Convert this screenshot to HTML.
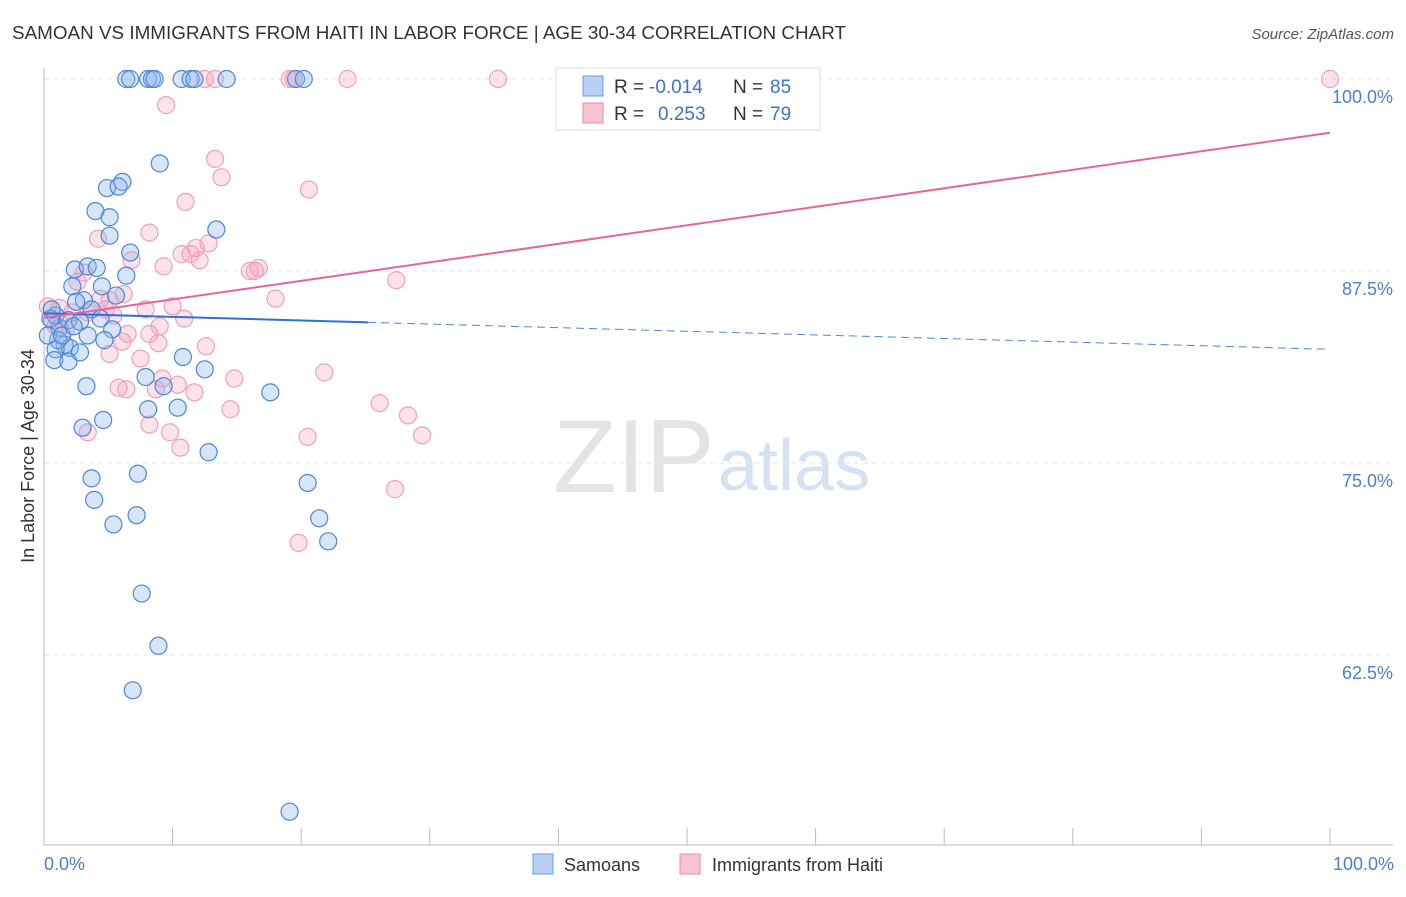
<!DOCTYPE html>
<html><head><meta charset="utf-8"><style>
body{margin:0;background:#fff;font-family:"Liberation Sans",sans-serif}
svg text{font-family:"Liberation Sans",sans-serif}
</style></head><body>
<svg width="1406" height="892">
<text x="12" y="39" font-size="18" fill="#333" textLength="834" lengthAdjust="spacingAndGlyphs">SAMOAN VS IMMIGRANTS FROM HAITI IN LABOR FORCE | AGE 30-34 CORRELATION CHART</text>
<text x="1394" y="39" font-size="15" fill="#555" font-style="italic" text-anchor="end">Source: ZipAtlas.com</text>
<text x="553" y="492" font-size="104" fill="#e4e4e4" font-family="Liberation Serif">ZIP</text>
<text x="718" y="490" font-size="72" fill="#d6e2f3">atlas</text>
<g id="grid"></g>
<line x1="44" y1="68" x2="44" y2="845" stroke="#bbb"/>
<line x1="44" y1="845" x2="1393" y2="845" stroke="#bbb"/>
<text transform="translate(34,456) rotate(-90)" font-size="18" fill="#333" text-anchor="middle">In Labor Force | Age 30-34</text>
<text x="44" y="870" font-size="18" fill="#4a7fd4">0.0%</text>
<text x="1394" y="870" font-size="18" fill="#4a7fd4" text-anchor="end">100.0%</text>
<g id="pts"></g>
<g id="lines"></g>
<g>
<rect x="556" y="68" width="264" height="62" fill="#fff" stroke="#ddd"/>
<rect x="583" y="76" width="20" height="20" fill="#b8d0f3" stroke="#6d9be0"/>
<rect x="583" y="103" width="20" height="20" fill="#f8c3d3" stroke="#ea8aaa"/>
<text x="614" y="93" font-size="19" fill="#333">R =</text>
<text x="649" y="93" font-size="19" fill="#3a73d0">-0.014</text>
<text x="733" y="93" font-size="19" fill="#333">N =</text>
<text x="770" y="93" font-size="19" fill="#3a73d0">85</text>
<text x="614" y="120" font-size="19" fill="#333">R =</text>
<text x="658" y="120" font-size="19" fill="#3a73d0">0.253</text>
<text x="733" y="120" font-size="19" fill="#333">N =</text>
<text x="770" y="120" font-size="19" fill="#3a73d0">79</text>
</g>
<g>
<rect x="533" y="854" width="20" height="20" fill="#b8d0f3" stroke="#6d9be0"/>
<text x="564" y="871" font-size="18" fill="#333">Samoans</text>
<rect x="680" y="854" width="20" height="20" fill="#f8c3d3" stroke="#ea8aaa"/>
<text x="712" y="871" font-size="18" fill="#333">Immigrants from Haiti</text>
</g>
</svg>
<script>
const yTicks=[100,87.5,75,62.5];
const yTickLabels=["100.0%","87.5%","75.0%","62.5%"];
const xTicks=[0,10,20,30,40,50,60,70,80,90,100];
const blueX=[6.4,6.7,8.1,8.4,8.6,10.7,11.4,11.7,14.2,19.6,20.2,9.0,4.9,6.1,5.8,4.0,5.1,5.1,13.4,6.7,6.4,2.4,3.4,4.1,2.2,4.5,5.6,3.1,2.5,3.7,4.4,5.3,3.4,4.7,1.2,0.9,0.5,1.9,2.8,1.6,2.0,0.9,0.8,1.9,2.8,10.8,12.5,7.9,9.3,3.3,8.1,10.4,4.6,3.0,17.6,12.8,7.3,3.7,3.9,7.2,5.4,20.5,21.4,22.1,7.6,8.9,6.9,19.1,0.6,1.1,0.3,1.4,2.3];
const blueY=[100,100,100,100,100,100,100,100,100,100,100,94.5,92.9,93.3,93.0,91.4,91.0,89.8,90.2,88.7,87.2,87.6,87.8,87.7,86.5,86.5,85.9,85.6,85.5,85.0,84.4,83.7,83.3,83.0,83.8,84.6,84.4,84.3,84.2,82.7,82.5,82.4,81.7,81.6,82.2,81.9,81.1,80.6,80.0,80.0,78.5,78.6,77.8,77.3,79.6,75.7,74.3,74.0,72.6,71.6,71.0,73.7,71.4,69.9,66.5,63.1,60.2,52.3,85.0,83.0,83.3,83.3,83.9];
const pinkX=[12.5,13.3,19.1,19.4,23.6,35.3,100,9.5,13.3,13.8,20.6,11.0,8.2,4.2,11.8,12.8,10.7,11.4,12.1,6.8,9.3,16.0,16.4,16.7,27.4,3.1,2.6,18.0,6.2,4.4,5.1,0.3,1.2,2.2,3.4,4.8,5.4,7.9,10.0,10.9,9.0,6.5,8.2,6.1,8.9,12.6,5.1,7.5,9.2,10.4,14.8,21.8,5.8,6.4,8.7,11.7,14.5,26.1,28.3,8.2,9.8,3.4,10.6,20.5,29.4,27.3,19.8,0.9,1.7,0.6];
const pinkY=[100,100,100,100,100,100,100,98.3,94.8,93.6,92.8,92.0,90.0,89.6,89.0,89.3,88.6,88.6,88.2,88.2,87.8,87.5,87.5,87.7,86.9,87.4,86.8,85.7,86.0,85.7,85.6,85.2,85.1,84.8,84.8,85.0,84.6,85.0,85.2,84.4,83.9,83.4,83.4,82.9,82.8,82.6,82.1,81.8,80.5,80.1,80.5,80.9,79.9,79.8,79.8,79.6,78.5,78.9,78.1,77.5,77.0,77.0,76.0,76.7,76.8,73.3,69.8,83.9,83.7,84.3];
const blueTrend=[84.75,82.4];
const pinkTrend=[84.45,96.5];
const sx=v=>44+v*12.86;
const sy=v=>79+(100-v)*15.36;
const NS="http://www.w3.org/2000/svg";
function mk(t,a,p){const e=document.createElementNS(NS,t);for(const k in a)e.setAttribute(k,a[k]);p.appendChild(e);return e;}
const grid=document.getElementById('grid');
yTicks.forEach((t,i)=>{
 const l=mk('line',{x1:44,x2:1393,y1:sy(t),y2:sy(t),stroke:'#e6e6e6','stroke-dasharray':'5,4'},grid);
 
 
 const tx=mk('text',{x:1393,y:sy(t)+24,'font-size':18,fill:'#4a7fd4','text-anchor':'end'},grid);
 tx.textContent=yTickLabels[i];
 
 
});
xTicks.forEach(t=>{
 const l=mk('line',{x1:sx(t),x2:sx(t),y1:828,y2:845,stroke:'#bbb'},grid);
 
 
});
const pts=document.getElementById('pts');
pinkX.forEach((x,i)=>{
 const c=mk('circle',{cx:sx(x),cy:sy(pinkY[i]),r:8.5,fill:'rgba(244,160,188,0.3)',stroke:'#f0a0b8','stroke-width':1.2},pts);
 
 
});
blueX.forEach((x,i)=>{
 const c=mk('circle',{cx:sx(x),cy:sy(blueY[i]),r:8.5,fill:'rgba(140,180,235,0.35)',stroke:'#4f86d8','stroke-width':1.2},pts);
 
 
});
const lines=document.getElementById('lines');
const bAt=v=>blueTrend[0]+(blueTrend[1]-blueTrend[0])*v/100;
const l1=mk('line',{x1:sx(0),y1:sy(bAt(0)),x2:sx(25.2),y2:sy(bAt(25.2)),stroke:'#2f6fd6','stroke-width':2},lines);


const l2=mk('line',{x1:sx(25.2),y1:sy(bAt(25.2)),x2:sx(100),y2:sy(bAt(100)),stroke:'#4f86d8','stroke-width':1,'stroke-dasharray':'8,5'},lines);


const l3=mk('line',{x1:sx(0),y1:sy(pinkTrend[0]),x2:sx(100),y2:sy(pinkTrend[1]),stroke:'#e8649a','stroke-width':2},lines);


</script>
</body></html>
